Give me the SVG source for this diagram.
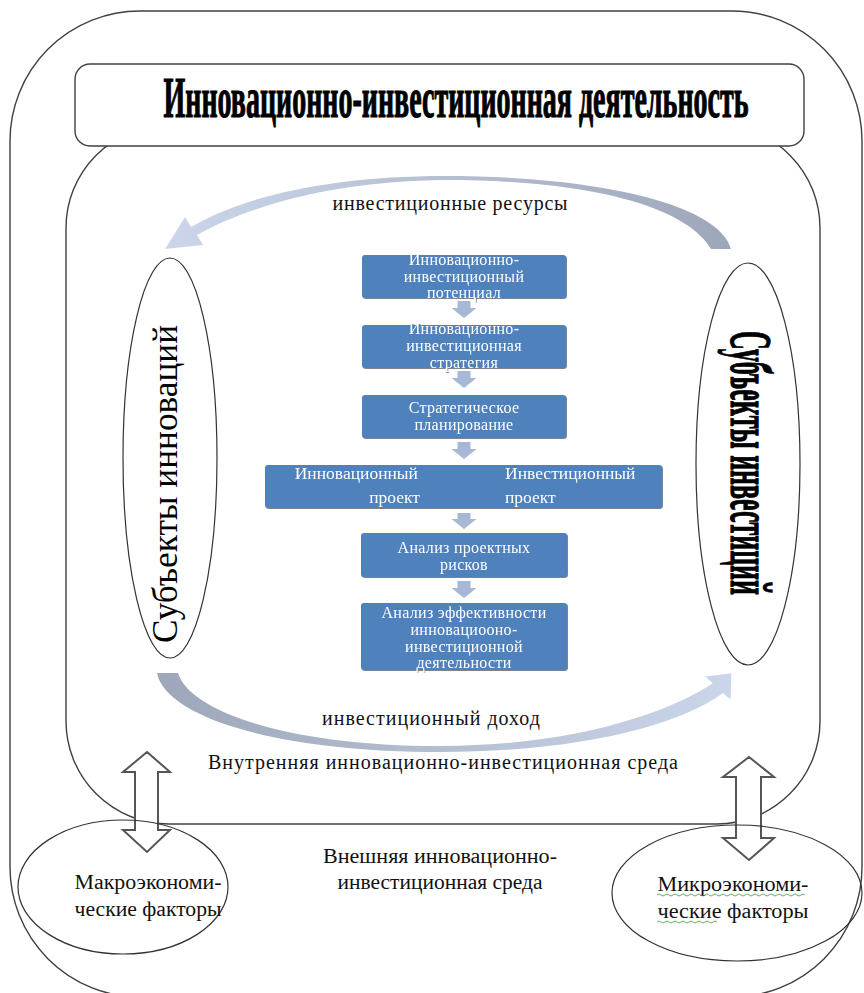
<svg xmlns="http://www.w3.org/2000/svg" width="864" height="993" viewBox="0 0 864 993" font-family="'Liberation Serif', 'DejaVu Serif', serif">
<style>
text{font-family:'Liberation Serif','DejaVu Serif',serif}
.frame{fill:none;stroke:#404040;stroke-width:1.4}
.ell{fill:none;stroke:#333;stroke-width:1.2}
.box{fill:#4f81bd}
.bt{font-size:16px;fill:#fff;text-anchor:middle;letter-spacing:0.3px}
.bte{font-size:17.5px;fill:#fff;text-anchor:end}
.bts{font-size:17.5px;fill:#fff;text-anchor:start}
.lbl{font-size:20px;fill:#111;text-anchor:middle}
.heavy{font-weight:bold;fill:#000;stroke:#000;stroke-width:1.2;text-anchor:middle}
.flow{fill:#a6b8d6}
.dbl{fill:#fff;stroke:#555;stroke-width:2}
</style>
<defs>
<linearGradient id="gTop" gradientUnits="userSpaceOnUse" x1="731" y1="0" x2="165" y2="0">
<stop offset="0" stop-color="#9ea7ba"/><stop offset="1" stop-color="#ccd6ea"/>
</linearGradient>
<linearGradient id="gBot" gradientUnits="userSpaceOnUse" x1="157" y1="0" x2="737" y2="0">
<stop offset="0" stop-color="#9ea7ba"/><stop offset="1" stop-color="#ccd6ea"/>
</linearGradient>
<filter id="sh" x="-10%" y="-30%" width="120%" height="160%">
<feDropShadow dx="0.8" dy="0.8" stdDeviation="0.7" flood-color="#223" flood-opacity="0.7"/>
</filter>
</defs>

<g id="outer-frame"><rect class="frame" x="10" y="11" width="852" height="986" rx="130" ry="130"/></g>
<g id="inner-frame"><rect class="frame" x="66" y="125" width="754" height="699" rx="103" ry="103"/></g>

<g id="title">
<rect x="75" y="64" width="729" height="82" rx="15" ry="15" fill="#fff" stroke="#404040" stroke-width="1.4"/>
<text class="heavy" transform="translate(456,117) scale(0.52,1)" x="0" y="0" font-size="56" stroke-width="1.6" textLength="1125" lengthAdjust="spacingAndGlyphs">Инновационно-инвестиционная деятельность</text>
</g>

<g id="connectors">
<path d="M731,249 C720,205 600,176 445,176 C335,176 245,195 191,227 L185,217 L165,249 L203,245 L197,235 C255,203 340,181 445,180 C585,180 685,205 711,249 Z" fill="url(#gTop)"/>
<path d="M157,673 C165,715 270,752 440,752 C580,752 680,725 723,693 L730.6,699.4 L731.4,673.2 L705.4,676.6 L712.8,683.3 C670,712 575,746 440,746 C290,746 190,712 178,673 Z" fill="url(#gBot)"/>
<path class="flow" d="M457.5,301 h13 v7 h6 l-12.5,10 l-12.5,-10 h6 z"/>
<path class="flow" d="M457.5,371 h13 v7 h6 l-12.5,10 l-12.5,-10 h6 z"/>
<path class="flow" d="M457.5,442 h13 v7 h6 l-12.5,10 l-12.5,-10 h6 z"/>
<path class="flow" d="M457.5,513 h13 v6 h6 l-12.5,10 l-12.5,-10 h6 z"/>
<path class="flow" d="M457.5,581 h13 v7 h6 l-12.5,10 l-12.5,-10 h6 z"/>
<path class="dbl" d="M147,752 L170,772 L158,772 L158,830 L170,830 L147,852 L123,830 L135,830 L135,772 L123,772 Z"/>
<path class="dbl" d="M749,757 L774,777 L761,777 L761,838 L774,838 L749,860 L723,838 L736,838 L736,777 L723,777 Z"/>
</g>

<g id="lbl-resources"><text class="lbl" x="450" y="210" textLength="235" lengthAdjust="spacing">инвестиционные ресурсы</text></g>
<g id="lbl-income"><text class="lbl" x="431" y="725" textLength="218" lengthAdjust="spacing">инвестиционный доход</text></g>
<g id="lbl-internal"><text class="lbl" x="443" y="769" textLength="470" lengthAdjust="spacing">Внутренняя инновационно-инвестиционная среда</text></g>
<g id="lbl-external">
<text class="lbl" x="440" y="863" textLength="234" lengthAdjust="spacingAndGlyphs">Внешняя инновационно-</text>
<text class="lbl" x="440" y="889" textLength="205" lengthAdjust="spacingAndGlyphs">инвестиционная среда</text>
</g>

<g id="subj-innov">
<ellipse class="ell" cx="170" cy="458" rx="47" ry="200" fill="#fff"/>
<text transform="translate(177,484) rotate(-90)" font-size="36" text-anchor="middle" fill="#000" textLength="318" lengthAdjust="spacingAndGlyphs">Субъекты инноваций</text>
</g>

<g id="subj-invest">
<ellipse class="ell" cx="748" cy="464" rx="52" ry="201" fill="#fff"/>
<text class="heavy" transform="translate(731,463) rotate(90)" font-size="60" textLength="264" lengthAdjust="spacingAndGlyphs">Субъекты инвестиций</text>
</g>

<g id="b1" filter="url(#sh)">
<rect class="box" x="362" y="255" width="204" height="43" rx="3"/>
<text class="bt" x="464" y="265">Инновационно-</text>
<text class="bt" x="464" y="282">инвестиционный</text>
<text class="bt" x="464" y="298">потенциал</text>
</g>
<g id="b2" filter="url(#sh)">
<rect class="box" x="362" y="325" width="204" height="43" rx="3"/>
<text class="bt" x="464" y="334">Инновационно-</text>
<text class="bt" x="464" y="351">инвестиционная</text>
<text class="bt" x="464" y="368">стратегия</text>
</g>
<g id="b3" filter="url(#sh)">
<rect class="box" x="362" y="395" width="204" height="43" rx="3"/>
<text class="bt" x="464" y="413">Стратегическое</text>
<text class="bt" x="464" y="430">планирование</text>
</g>
<g id="b4" filter="url(#sh)">
<rect class="box" x="265" y="465" width="397" height="43" rx="3"/>
<text class="bte" x="418" y="479">Инновационный</text>
<text class="bte" x="420" y="503">проект</text>
<text class="bts" x="505" y="479">Инвестиционный</text>
<text class="bts" x="505" y="503">проект</text>
</g>
<g id="b5" filter="url(#sh)">
<rect class="box" x="361" y="533" width="206" height="44" rx="3"/>
<text class="bt" x="464" y="553">Анализ проектных</text>
<text class="bt" x="464" y="570">рисков</text>
</g>
<g id="b6" filter="url(#sh)">
<rect class="box" x="361" y="603" width="206" height="67" rx="3"/>
<text class="bt" x="464" y="618">Анализ эффективности</text>
<text class="bt" x="464" y="635">инновациооно-</text>
<text class="bt" x="464" y="652">инвестиционной</text>
<text class="bt" x="464" y="668">деятельности</text>
</g>

<g id="macro">
<ellipse class="ell" cx="123" cy="887" rx="105" ry="67"/>
<text class="lbl" x="148" y="889" textLength="147" lengthAdjust="spacingAndGlyphs">Макроэкономи-</text>
<text class="lbl" x="148" y="916" textLength="147" lengthAdjust="spacingAndGlyphs">ческие факторы</text>
</g>
<g id="micro">
<ellipse class="ell" cx="737" cy="893" rx="125" ry="68"/>
<text class="lbl" x="733" y="891" textLength="151" lengthAdjust="spacingAndGlyphs">Микроэкономи-</text>
<text class="lbl" x="733" y="918" textLength="151" lengthAdjust="spacingAndGlyphs">ческие факторы</text>
<path d="M657,895 q2,-2 4,0 t4,0 t4,0 t4,0 t4,0 t4,0 t4,0 t4,0 t4,0 t4,0 t4,0 t4,0 t4,0 t4,0 t4,0 t4,0 t4,0 t4,0 t4,0 t4,0 t4,0 t4,0 t4,0 t4,0 t4,0 t4,0 t4,0 t4,0 t4,0 t4,0 t4,0 t4,0 t4,0 t4,0 t4,0 t4,0 t4,0" fill="none" stroke="#3c9a3c" stroke-width="0.8"/>
<path d="M657,922 q2,-2 4,0 t4,0 t4,0 t4,0 t4,0 t4,0 t4,0 t4,0 t4,0 t4,0 t4,0 t4,0 t4,0 t4,0 t4,0" fill="none" stroke="#3c9a3c" stroke-width="0.8"/>
</g>
</svg>
